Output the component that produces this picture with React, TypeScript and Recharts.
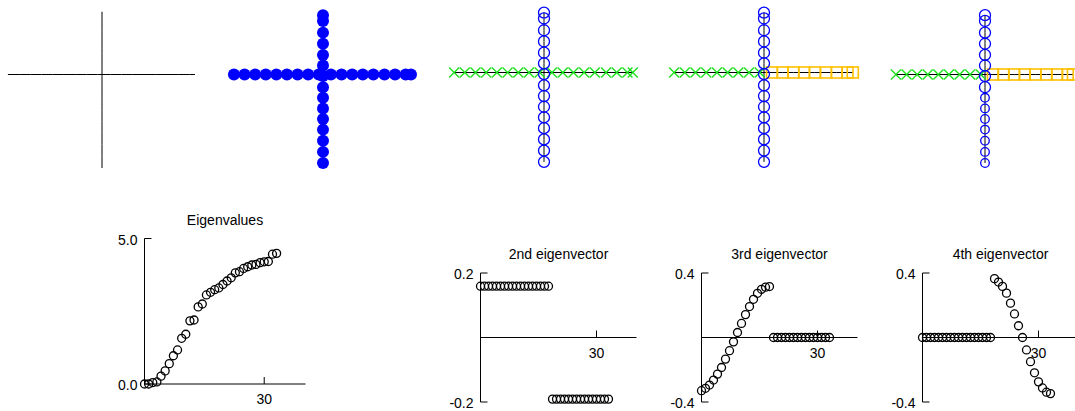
import React from "react";
import { ScatterChart, Scatter, XAxis, YAxis, ReferenceLine, ReferenceDot } from "recharts";

// node index (x of the lower plots)
const NODE_INDEX = [
  1, 2, 3, 4, 5, 6, 7, 8, 9, 10, 11, 12, 13, 14, 15, 16, 17,
  18, 19, 20, 21, 22, 23, 24, 25, 26, 27, 28, 29, 30, 31, 32, 33,
];

const EIGENVALUES = [
  0.0, 0.0, 0.05, 0.07, 0.27, 0.45, 0.7, 0.97, 1.17, 1.57, 1.71, 2.17, 2.2, 2.65, 2.75, 3.06, 3.15,
  3.24, 3.3, 3.42, 3.54, 3.65, 3.82, 3.86, 3.97, 4.03, 4.09, 4.11, 4.17, 4.2, 4.21, 4.46, 4.49,
];

const EIGVEC_2 = [
  0.159, 0.159, 0.159, 0.159, 0.159, 0.159, 0.159, 0.159, 0.159, 0.159, 0.159, 0.159, 0.159, 0.159, 0.159, 0.159, 0.159, 0.159,
  -0.191, -0.191, -0.191, -0.191, -0.191, -0.191, -0.191, -0.191, -0.191, -0.191, -0.191, -0.191, -0.191, -0.191, -0.191,
];

const EIGVEC_3 = [
  -0.33, -0.315, -0.295, -0.264, -0.227, -0.186, -0.134, -0.082, -0.027, 0.031, 0.087, 0.142, 0.192, 0.237, 0.274, 0.299, 0.312, 0.316,
  0, 0, 0, 0, 0, 0, 0, 0, 0, 0, 0, 0, 0, 0, 0,
];

const EIGVEC_4 = [
  0, 0, 0, 0, 0, 0, 0, 0, 0, 0, 0, 0, 0, 0, 0, 0, 0, 0,
  0.365, 0.344, 0.317, 0.275, 0.213, 0.146, 0.073, 0.0, -0.077, -0.15, -0.219, -0.275, -0.313, -0.339, -0.348,
];

// graph layout: horizontal path (nodes 1-18) and vertical path (nodes 19-33)
const H_PATH_X = [-8.4, -7.4, -6.4, -5.4, -4.4, -3.4, -2.4, -1.4, -0.4, 0.75, 1.75, 2.75, 3.75, 4.75, 5.8, 6.8, 7.8, 8.3];
const V_PATH_Y = [5.6, 5.05, 3.95, 2.9, 1.85, 0.85, -0.15, -1.2, -2.2, -3.2, -4.2, -5.2, -6.25, -7.3, -8.35];

// cluster labels for k = 2, 3, 4
const LABELS_K2 = [0, 0, 0, 0, 0, 0, 0, 0, 0, 0, 0, 0, 0, 0, 0, 0, 0, 0, 1, 1, 1, 1, 1, 1, 1, 1, 1, 1, 1, 1, 1, 1, 1];
const LABELS_K3 = [0, 0, 0, 0, 0, 0, 0, 0, 0, 1, 1, 1, 1, 1, 1, 1, 1, 1, 2, 2, 2, 2, 2, 2, 2, 2, 2, 2, 2, 2, 2, 2, 2];
const LABELS_K4 = [0, 0, 0, 0, 0, 0, 0, 0, 0, 1, 1, 1, 1, 1, 1, 1, 1, 1, 2, 2, 2, 2, 2, 2, 2, 2, 3, 3, 3, 3, 3, 3, 3];

const BLUE = "#0000ff";
const GREEN = "#1ee01e";
const GOLD = "#ffc000";
const FONT = '"Liberation Sans", Arial, sans-serif';

const hNodes = H_PATH_X.map((x) => ({ x, y: 0 }));
const vNodes = V_PATH_Y.map((y) => ({ x: 0, y }));
const allNodes = [...hNodes, ...vNodes];

const Nothing = () => <g />;
const FilledDot = (p: any) => <circle cx={p.cx} cy={p.cy} r={6} fill={BLUE} />;
const Ring = (r: number) => (p: any) => <circle cx={p.cx} cy={p.cy} r={r} fill="none" stroke={BLUE} strokeWidth={1.3} />;
const XMark = (p: any) => (
  <g stroke={GREEN} strokeWidth={1.4}>
    <line x1={p.cx - 5} y1={p.cy - 5} x2={p.cx + 5} y2={p.cy + 5} />
    <line x1={p.cx - 5} y1={p.cy + 5} x2={p.cx + 5} y2={p.cy - 5} />
  </g>
);
const Square = (p: any) => <rect x={p.cx - 5.5} y={p.cy - 5.5} width={11} height={11} fill="none" stroke={GOLD} strokeWidth={1.6} />;
const OpenCircle = (p: any) => <circle cx={p.cx} cy={p.cy} r={4} fill="none" stroke="#000" strokeWidth={1.3} />;

function GraphPanel({ cx, cy, scale, labels, shapes }: any) {
  const W = 220;
  const H = 180;
  const xDomain = [-W / 2 / scale, W / 2 / scale];
  const yDomain = [-(H - cy) / scale, cy / scale];
  const groups = labels ? shapes.map((_: any, k: number) => allNodes.filter((_, i) => labels[i] === k)) : shapes.length ? [allNodes] : [];
  return (
    <div style={{ position: "absolute", left: cx - W / 2, top: 0 }}>
      <ScatterChart width={W} height={H} margin={{ top: 0, right: 0, bottom: 0, left: 0 }}>
        <XAxis type="number" dataKey="x" domain={xDomain} hide />
        <YAxis type="number" dataKey="y" domain={yDomain} hide />
        <Scatter data={hNodes} line={{ stroke: "#000", strokeWidth: 1 }} shape={Nothing} isAnimationActive={false} />
        <Scatter data={vNodes} line={{ stroke: "#000", strokeWidth: 1 }} shape={Nothing} isAnimationActive={false} />
        {groups.map((g: any, k: number) => (
          <Scatter key={k} data={g} shape={shapes[k]} isAnimationActive={false} />
        ))}
      </ScatterChart>
    </div>
  );
}

const YTick = (p: any) => (
  <g>
    <line x1={p.x} y1={p.y} x2={p.x + 7} y2={p.y} stroke="#000" />
    <text x={p.x - 7} y={p.y + 1} textAnchor="end" dominantBaseline="central" fontSize={14} fill="#000">
      {Number(p.payload.value).toFixed(1)}
    </text>
  </g>
);

const XTick = (p: any) => (
  <g>
    <line x1={p.x} y1={p.y} x2={p.x} y2={p.y - 7} stroke="#000" />
    <text x={p.x} y={p.y + 15} textAnchor="middle" dominantBaseline="central" fontSize={14} fill="#000">
      {p.payload.value}
    </text>
  </g>
);

const ZeroAxisTick = (p: any) => (
  <g>
    <line x1={p.cx} y1={p.cy} x2={p.cx} y2={p.cy - 7} stroke="#000" />
    <text x={p.cx} y={p.cy + 15} textAnchor="middle" dominantBaseline="central" fontSize={14} fill="#000">
      30
    </text>
  </g>
);

const toPoints = (vals: number[]) => vals.map((v, i) => ({ x: NODE_INDEX[i], y: v }));

function Title({ x, top, text }: { x: number; top: number; text: string }) {
  return (
    <div style={{ position: "absolute", left: x - 80, top, width: 160, textAlign: "center", fontSize: 14, lineHeight: "18px" }}>
      {text}
    </div>
  );
}

function EigenvaluePlot() {
  const axisX = 144.5;
  const plotTop = 238.5;
  const plotH = 145.5;
  const plotW = 161;
  const left = 100;
  return (
    <>
      <Title x={axisX + plotW / 2} top={210.5} text="Eigenvalues" />
      <div style={{ position: "absolute", left, top: plotTop - 8.5 }}>
        <ScatterChart width={axisX - left + plotW + 4} height={8.5 + plotH + 27} margin={{ top: 8.5, right: 4, bottom: 0, left: 0 }}>
          <XAxis type="number" dataKey="x" domain={[1, 40]} ticks={[30]} interval={0} height={27}
            axisLine={{ stroke: "#000" }} tickLine={false} tickSize={0} tickMargin={0} tick={XTick} />
          <YAxis type="number" dataKey="y" domain={[0, 5]} ticks={[0, 5]} interval={0} width={axisX - left}
            axisLine={{ stroke: "#000" }} tickLine={false} tickSize={0} tickMargin={0} tick={YTick} />
          <Scatter data={toPoints(EIGENVALUES)} shape={OpenCircle} isAnimationActive={false} />
        </ScatterChart>
      </div>
    </>
  );
}

function EigenvectorPlot({ axisX, values, yMax, title }: { axisX: number; values: number[]; yMax: number; title: string }) {
  const plotTop = 272.5;
  const plotH = 129;
  const plotW = 156;
  const yAxisW = 40.5;
  return (
    <>
      <Title x={axisX + plotW / 2} top={245} text={title} />
      <div style={{ position: "absolute", left: axisX - yAxisW, top: plotTop - 10 }}>
        <ScatterChart width={yAxisW + plotW + 5} height={10 + plotH + 10} margin={{ top: 10, right: 5, bottom: 10, left: 0 }}>
          <XAxis type="number" dataKey="x" domain={[1, 40]} hide />
          <YAxis type="number" dataKey="y" domain={[-yMax, yMax]} ticks={[-yMax, yMax]} interval={0} width={yAxisW}
            axisLine={{ stroke: "#000" }} tickLine={false} tickSize={0} tickMargin={0} tick={YTick} />
          <ReferenceLine y={0} stroke="#000" strokeWidth={1} />
          <ReferenceDot x={30} y={0} r={1} shape={ZeroAxisTick} />
          <Scatter data={toPoints(values)} shape={OpenCircle} isAnimationActive={false} />
        </ScatterChart>
      </div>
    </>
  );
}

export default function App() {
  return (
    <div style={{ position: "absolute", left: 0, top: 0, width: 1075, height: 411, overflow: "hidden", background: "#fff", fontFamily: FONT, color: "#000" }}>
      <GraphPanel cx={102} cy={74.5} scale={11.2} labels={null} shapes={[]} />
      <GraphPanel cx={323} cy={74.5} scale={10.6} labels={null} shapes={[FilledDot]} />
      <GraphPanel cx={544} cy={72.5} scale={10.7} labels={LABELS_K2} shapes={[XMark, Ring(5.5)]} />
      <GraphPanel cx={764} cy={72.5} scale={10.7} labels={LABELS_K3} shapes={[XMark, Square, Ring(5.5)]} />
      <GraphPanel cx={985} cy={74.5} scale={10.6} labels={LABELS_K4} shapes={[XMark, Square, Ring(5.5), Ring(4.3)]} />

      <EigenvaluePlot />
      <EigenvectorPlot axisX={480.5} values={EIGVEC_2} yMax={0.2} title="2nd eigenvector" />
      <EigenvectorPlot axisX={701.5} values={EIGVEC_3} yMax={0.4} title="3rd eigenvector" />
      <EigenvectorPlot axisX={922.5} values={EIGVEC_4} yMax={0.4} title="4th eigenvector" />
    </div>
  );
}
